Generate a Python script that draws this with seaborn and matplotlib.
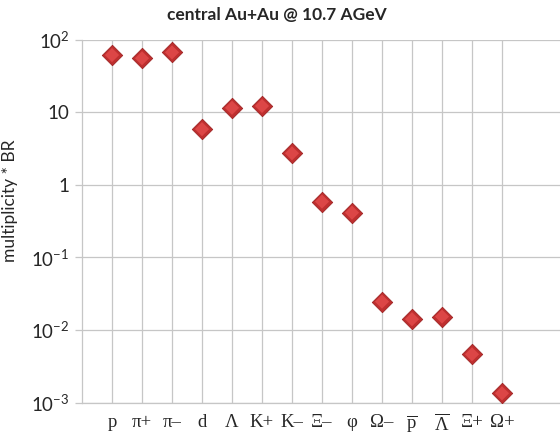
import matplotlib
matplotlib.use("Agg")
import matplotlib.pyplot as plt
from matplotlib.ticker import FixedLocator, FixedFormatter, NullLocator
import seaborn as sns
import pandas as pd

# Hadron yields (multiplicity x branching ratio), central Au+Au at 10.7 AGeV
particles = ["p", "pi+", "pi-", "d", "Lambda", "K+", "K-", "Xi-", "phi",
             "Omega-", "pbar", "Lambdabar", "Xi+", "Omega+"]
particle_labels = ["p", "π+", "π–", "d", "Λ", "K+", "K–", "Ξ–", "φ",
                   "Ω–", r"$\overline{\mathrm{p}}$", r"$\overline{\Lambda}$", "Ξ+", "Ω+"]
multiplicity = [62, 56, 67.5, 5.9, 11.6, 12.3, 2.74, 0.59, 0.415,
                0.0246, 0.0141, 0.0153, 0.00462, 0.00134]
y_ticks = [1e-3, 1e-2, 1e-1, 1, 10, 100]
y_tick_labels = [r"$\mathsf{10^{-3}}$", r"$\mathsf{10^{-2}}$", r"$\mathsf{10^{-1}}$",
                 "1", "10", r"$\mathsf{10^{2}}$"]

sns.set_theme(style="white")
plt.rcParams["mathtext.fontset"] = "custom"
plt.rcParams["mathtext.rm"] = "Liberation Serif"
plt.rcParams["mathtext.sf"] = "Lato"
plt.rcParams["font.family"] = ["Lato", "DejaVu Sans"]

df = pd.DataFrame({"particle": particles, "multiplicity": multiplicity})

W, H = 560, 434
fig = plt.figure(figsize=(W / 100, H / 100), dpi=100)
ax = fig.add_axes([82 / W, 1 - 402.5 / H, (W - 82) / W, (402.5 - 40) / H])

grid_col = "#c6c6c6"
# bevelled diamonds: darker body with a lighter face on top
sns.scatterplot(data=df, x="particle", y="multiplicity", marker="D", s=108,
                color="#bf2f2f", edgecolor="#9e2222", linewidth=0.6,
                ax=ax, zorder=3, legend=False)
sns.scatterplot(data=df, x="particle", y="multiplicity", marker="D", s=52,
                color="#dc4646", edgecolor="none", linewidth=0,
                ax=ax, zorder=4, legend=False)

ax.set_yscale("log")
ax.set_ylim(1e-3, 100)
ax.set_xlim(-1, -1 + (W - 82) / 30)

ax.yaxis.set_major_locator(FixedLocator(y_ticks))
ax.yaxis.set_major_formatter(FixedFormatter(y_tick_labels))
ax.yaxis.set_minor_locator(NullLocator())
ax.set_xticks(range(len(particles)))
ax.set_xticklabels(particle_labels, family=["Liberation Serif", "DejaVu Serif"], fontsize=13.5)

ax.grid(True, axis="both", color=grid_col, linewidth=0.9)
ax.set_axisbelow(True)

for side in ["top", "right"]:
    ax.spines[side].set_visible(False)
for side in ["left", "bottom"]:
    ax.spines[side].set_color(grid_col)
    ax.spines[side].set_linewidth(0.9)

ax.tick_params(axis="y", which="major", length=5, width=0.9, color=grid_col,
               direction="out", labelsize=13.5, pad=4, left=True)
ax.tick_params(axis="x", length=0, pad=8)

ax.set_xlabel("")
ax.set_ylabel("multiplicity * BR", fontsize=12.5)
ax.yaxis.set_label_coords((18 - 82) / (W - 82), (402.5 - 201) / (402.5 - 40))

fig.text(277 / W, 1 - 15 / H, "central Au+Au @ 10.7 AGeV", ha="center", va="center",
         fontsize=12.5, fontweight="bold")

fig.savefig("out.png", dpi=100)
